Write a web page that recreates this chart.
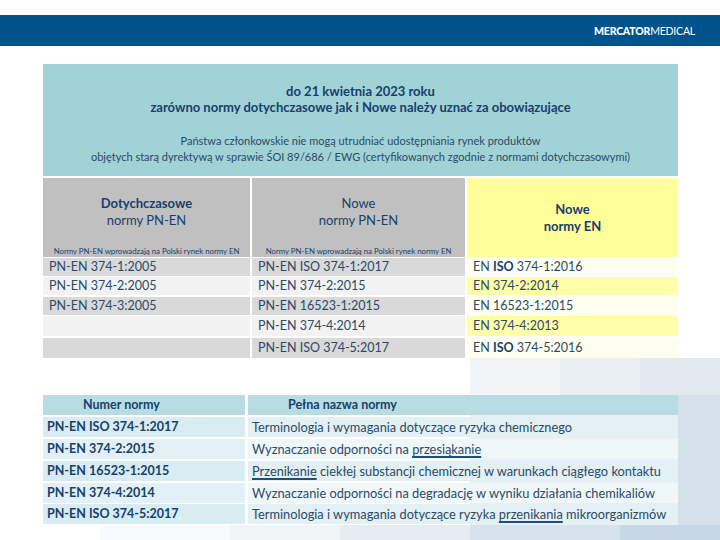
<!DOCTYPE html>
<html>
<head>
<meta charset="utf-8">
<script src="https://cdn.jsdelivr.net/npm/chart.js@4.4.0/dist/chart.umd.min.js"></script>
<style>
  html, body { margin: 0; padding: 0; background: #fff; }
  #slide { position: relative; width: 720px; height: 540px; overflow: hidden; font-family: Lato, "Open Sans", sans-serif; color: #2b4a68; }
  .abs { position: absolute; box-sizing: border-box; }
  .topbar { left: 0; top: 15px; width: 720px; height: 31px; background: #00538a; }
  .logo { right: 25px; top: 25px; color: #fff; font-size: 10.5px; letter-spacing: -0.2px; }
  .logo b { font-weight: 900; }
  .bg { position: absolute; }
  .teal { left: 43px; top: 64px; width: 635px; height: 112px; background: #a0d2d6; text-align: center; }
  .t1 { font-weight: 700; font-size: 13px; color: #17406d; line-height: 16px; }
  .t2 { font-size: 11px; color: #2b4a68; line-height: 16px; }
  .cell { position: absolute; box-sizing: border-box; font-size: 12.5px; line-height: 19px; padding-left: 6px; white-space: nowrap; color: #2b4a68; }
  .hdr { position: absolute; text-align: center; font-size: 13px; line-height: 17px; color: #17406d; }
  .note { position: absolute; font-size: 7.8px; color: #17406d; white-space: nowrap; text-align: center; }
  .u { text-decoration: underline; text-decoration-color: #1f4e79; text-decoration-thickness: 2px; text-underline-offset: 2px; }
</style>
</head>
<body>
<div id="slide"></div>
<script>
// Górna tabela: trzy kolumny norm
const oldPnNorms = ['PN-EN 374-1:2005', 'PN-EN 374-2:2005', 'PN-EN 374-3:2005', '', ''];
const newPnNorms = ['PN-EN ISO 374-1:2017', 'PN-EN 374-2:2015', 'PN-EN 16523-1:2015', 'PN-EN 374-4:2014', 'PN-EN ISO 374-5:2017'];
const newEnNorms = ['EN ISO 374-1:2016', 'EN 374-2:2014', 'EN 16523-1:2015', 'EN 374-4:2013', 'EN ISO 374-5:2016'];

// Dolna tabela: numer i pełna nazwa normy ([[...]] = podkreślenie)
const normNumbers = ['PN-EN ISO 374-1:2017', 'PN-EN 374-2:2015', 'PN-EN 16523-1:2015', 'PN-EN 374-4:2014', 'PN-EN ISO 374-5:2017'];
const normNames = [
    'Terminologia i wymagania dotyczące ryzyka chemicznego',
    'Wyznaczanie odporności na [[przesiąkanie]]',
    '[[Przenikanie]] ciekłej substancji chemicznej w warunkach ciągłego kontaktu',
    'Wyznaczanie odporności na degradację w wyniku działania chemikaliów',
    'Terminologia i wymagania dotyczące ryzyka [[przenikania]] mikroorganizmów'
];

const slide = document.getElementById('slide');

function add(cls, css, html) {
    const d = document.createElement('div');
    d.className = cls;
    Object.assign(d.style, css);
    d.innerHTML = html || '';
    slide.appendChild(d);
    return d;
}

// tło - jasne kwadraty w prawym dolnym rogu
const bgBlocks = [
    [470, 358, 90, 37, '#f2f5f8'], [560, 358, 80, 37, '#e9eef3'], [640, 358, 80, 37, '#e1e8ef'],
    [470, 395, 250, 130, '#eaeff4'], [678, 395, 42, 130, '#d5e0ea'],
    [100, 525, 130, 15, '#f7f9fb'], [230, 525, 110, 15, '#f0f4f7'], [340, 525, 130, 15, '#e6ecf2'], [470, 525, 150, 15, '#d8e2ec'], [620, 525, 100, 15, '#c7d7e6']
];
bgBlocks.forEach(b => add('bg', { left: b[0] + 'px', top: b[1] + 'px', width: b[2] + 'px', height: b[3] + 'px', background: b[4] }));

add('abs topbar', {});
add('abs logo', {}, '<b>MERCATOR</b>MEDICAL');

const teal = add('abs teal', {});
teal.innerHTML =
    '<div class="t1" style="margin-top:19px">do 21 kwietnia 2023 roku<br>zarówno normy dotychczasowe jak i Nowe należy uznać za obowiązujące</div>' +
    '<div class="t2" style="margin-top:18px">Państwa członkowskie nie mogą utrudniać udostępniania rynek produktów<br>objętych starą dyrektywą w sprawie ŚOI 89/686 / EWG (certyfikowanych zgodnie z normami dotychczasowymi)</div>';

// nagłówki górnej tabeli
const cols = [
    { x: 43, w: 207, head: '#c0c0c0', dark: '#d9d9d9', light: '#f2f2f2' },
    { x: 252, w: 213, head: '#c0c0c0', dark: '#d9d9d9', light: '#f2f2f2' },
    { x: 467, w: 211, head: '#ffff99', dark: '#fffff0', light: '#ffffa8' }
];
cols.forEach(c => add('bg', { left: c.x + 'px', top: '178px', width: c.w + 'px', height: '79px', background: c.head }));
add('hdr', { left: '43px', top: '195px', width: '207px' }, '<b>Dotychczasowe</b><br>normy PN-EN');
add('hdr', { left: '252px', top: '195px', width: '213px' }, 'Nowe<br>normy PN-EN');
add('hdr', { left: '467px', top: '201px', width: '211px' }, '<b>Nowe<br>normy EN</b>');
add('note', { left: '43px', top: '246px', width: '207px' }, 'Normy PN-EN wprowadzają na Polski rynek normy EN');
add('note', { left: '252px', top: '246px', width: '213px' }, 'Normy PN-EN wprowadzają na Polski rynek normy EN');

const rowTops = [258, 277, 297, 316, 338];
const rowHeights = [18, 18, 18, 20, 20];
[oldPnNorms, newPnNorms, newEnNorms].forEach((list, ci) => {
    const c = cols[ci];
    list.forEach((txt, ri) => {
        const html = txt.replace('ISO', ci === 2 ? '<b style="color:#17406d">ISO</b>' : 'ISO');
        add('cell', {
            left: c.x + 'px', top: rowTops[ri] + 'px', width: c.w + 'px', height: rowHeights[ri] + 'px',
            lineHeight: rowHeights[ri] + 'px', background: ri % 2 === 0 ? c.dark : c.light
        }, html);
    });
});

// dolna tabela
add('cell', { left: '43px', top: '395px', width: '202px', height: '20px', lineHeight: '20px', background: '#b7dde3', fontWeight: 700, color: '#17406d', paddingLeft: '40px' }, 'Numer normy');
add('cell', { left: '248px', top: '395px', width: '430px', height: '20px', lineHeight: '20px', background: '#b7dde3', fontWeight: 700, color: '#17406d', paddingLeft: '40px' }, 'Pełna nazwa normy');
const bRowTops = [417, 439, 461, 483, 504];
normNumbers.forEach((num, i) => {
    add('cell', { left: '43px', top: bRowTops[i] + 'px', width: '202px', height: '20px', lineHeight: '20px', background: i % 2 === 0 ? '#d8ecf1' : '#e2f1f5', fontWeight: 700, color: '#17406d', paddingLeft: '4px' }, num);
    const name = normNames[i].replace(/\[\[(.+?)\]\]/g, '<span class="u">$1</span>');
    add('cell', { left: '248px', top: bRowTops[i] + 'px', width: '430px', height: '20px', lineHeight: '20px', background: i % 2 === 0 ? '#e3f0f4' : '#f0f7f9', paddingLeft: '4px', fontSize: '12.8px' }, name);
});
</script>
</body>
</html>
